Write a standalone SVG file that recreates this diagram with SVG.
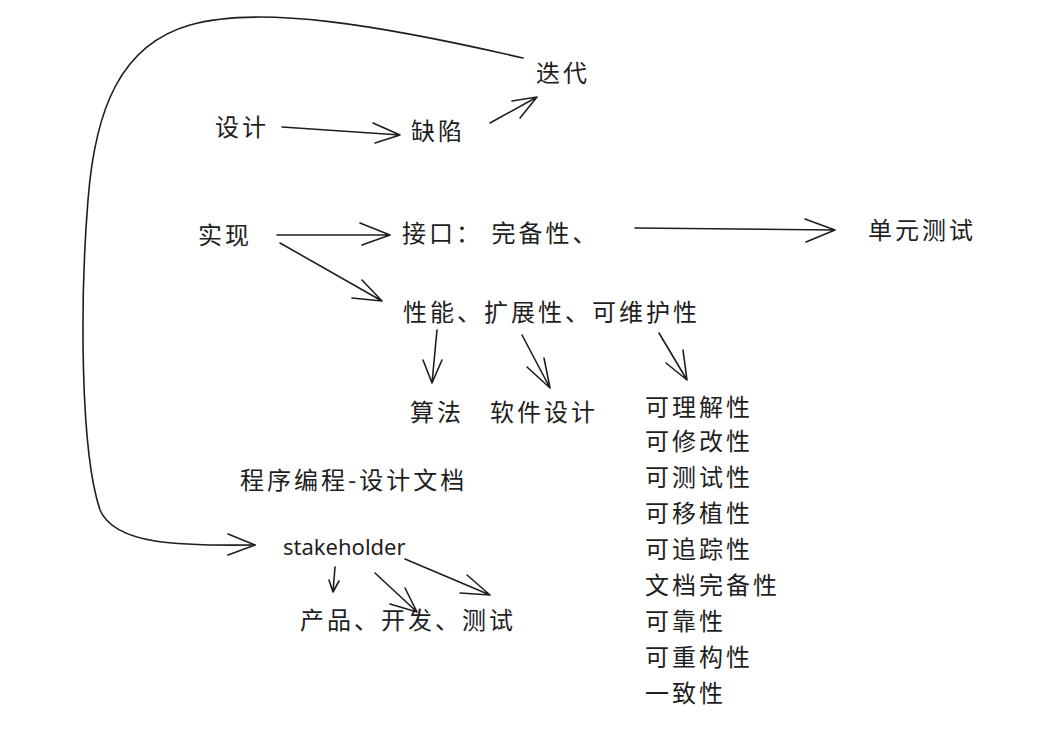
<svg xmlns="http://www.w3.org/2000/svg" width="1039" height="732" viewBox="0 0 1039 732">
<style>
.t{font-family:"Noto Sans CJK SC","Noto Sans",sans-serif;font-size:24px;fill:#1e1e1e;letter-spacing:3px}
.e{font-family:"Noto Sans","Liberation Sans",sans-serif;font-size:22px;fill:#1e1e1e}
.c path{fill:none;stroke:#1e1e1e;stroke-width:1.6;stroke-linecap:round;stroke-linejoin:round}
</style>
<rect width="1039" height="732" fill="#ffffff"/>
<g id="n-sheji"><text class="t" x="215" y="136">设计</text></g>
<g id="n-quexian"><text class="t" x="411" y="140">缺陷</text></g>
<g id="n-diedai"><text class="t" x="536" y="82">迭代</text></g>
<g id="n-shixian"><text class="t" x="198" y="244">实现</text></g>
<g id="n-jiekou"><text class="t" x="402" y="242">接口： 完备性、</text></g>
<g id="n-danyuan"><text class="t" x="868" y="239">单元测试</text></g>
<g id="n-xingneng"><text class="t" x="403" y="321">性能、扩展性、可维护性</text></g>
<g id="n-suanfa"><text class="t" x="410" y="421">算法</text></g>
<g id="n-ruanjian"><text class="t" x="490" y="421">软件设计</text></g>
<g id="n-list">
<text class="t" x="645" y="416">可理解性</text>
<text class="t" x="645" y="450">可修改性</text>
<text class="t" x="645" y="486">可测试性</text>
<text class="t" x="645" y="522">可移植性</text>
<text class="t" x="645" y="558">可追踪性</text>
<text class="t" x="645" y="594">文档完备性</text>
<text class="t" x="645" y="630">可靠性</text>
<text class="t" x="645" y="666">可重构性</text>
<text class="t" x="645" y="702">一致性</text>
</g>
<g id="n-chengxu"><text class="t" x="240" y="489">程序编程-设计文档</text></g>
<g id="n-stakeholder"><text class="e" x="283" y="555">stakeholder</text></g>
<g id="n-chanpin"><text class="t" x="300" y="629">产品、开发、测试</text></g>
<g id="connectors" class="c">
<path d="M523 58 C380 25 260 5 190 25 C120 45 95 110 88 200 C80 300 80 450 100 510 C115 545 180 546 255 545"/>
<path d="M228 534 L255 545 L228 555"/>
<path d="M282 127 L400 135 M373 123 L400 135 L375 143"/>
<path d="M490 123 L537 97 M512 101 L537 97 L520 118"/>
<path d="M277 235 L390 235 M360 223 L390 235 L362 245"/>
<path d="M280 243 L382 301 M362 280 L382 301 L352 298"/>
<path d="M635 228 L835 230 M805 219 L835 230 L806 242"/>
<path d="M437 330 L432 383 M423 360 L432 383 L442 360"/>
<path d="M522 335 L550 388 M527 367 L550 388 L544 358"/>
<path d="M659 333 L687 380 M666 363 L687 380 L683 350"/>
<path d="M335 567 L333 592 M329 580 L333 592 L339 581"/>
<path d="M375 573 L417 612 M390 604 L417 612 L405 588"/>
<path d="M405 559 L490 595 M467 575 L490 595 L460 593"/>
</g>
</svg>
